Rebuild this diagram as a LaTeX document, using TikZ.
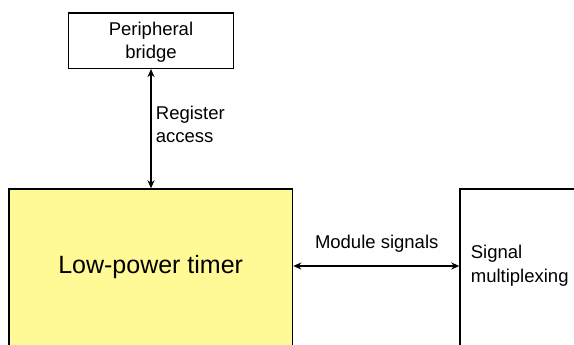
\documentclass[tikz,border=0pt]{standalone}
\usepackage{fontspec}
\setmainfont{Liberation Sans}
\usetikzlibrary{arrows.meta}
\definecolor{timeryellow}{RGB}{255,250,150}
\tikzset{
  blk/.style={draw=black, line width=1.3pt, rectangle, inner sep=0pt},
  lbl/.style={font=\fontsize{18.5}{23.5}\selectfont, inner sep=0pt, align=left},
  biarrow/.style={line width=1.3pt, {Stealth[length=8pt,width=7pt,inset=2.5pt]}-{Stealth[length=8pt,width=7pt,inset=2.5pt]}}
}
\begin{document}
\begin{tikzpicture}[x=1pt,y=-1pt]
\useasboundingbox (0,0) rectangle (574,345);
\begin{scope}
\clip (0,0) rectangle (574,345);
\node[blk, minimum width=165.3pt, minimum height=55.2pt, anchor=north west] (bridge) at (67.7,12.5) {};
\node[lbl, align=center] (bridgetext) at ([yshift=-1.5pt]bridge.center) {Peripheral\\bridge};
\node[blk, fill=timeryellow, minimum width=283.7pt, minimum height=180pt, anchor=north west] (timer) at (8.3,188.3) {};
\node[font=\fontsize{25}{30}\selectfont, inner sep=0pt] (timertext) at (150.7,266.7) {Low-power timer};
\node[blk, minimum width=150pt, minimum height=180pt, anchor=north west] (mux) at (459.3,188.5) {};
\node[lbl, anchor=north west] (muxtext) at (470.7,245) {Signal\\multiplexing};
\coordinate (hy) at (0,266);
\draw[biarrow] (bridge.south) -- (bridge.south |- timer.north);
\draw[biarrow] (timer.east |- hy) -- (mux.west |- hy);
\node[lbl, anchor=north west] (regtext) at (155.7,105.5) {Register\\access};
\node[lbl, anchor=base] (modtext) at (376.7,248) {Module signals};
\end{scope}
\end{tikzpicture}
\end{document}
